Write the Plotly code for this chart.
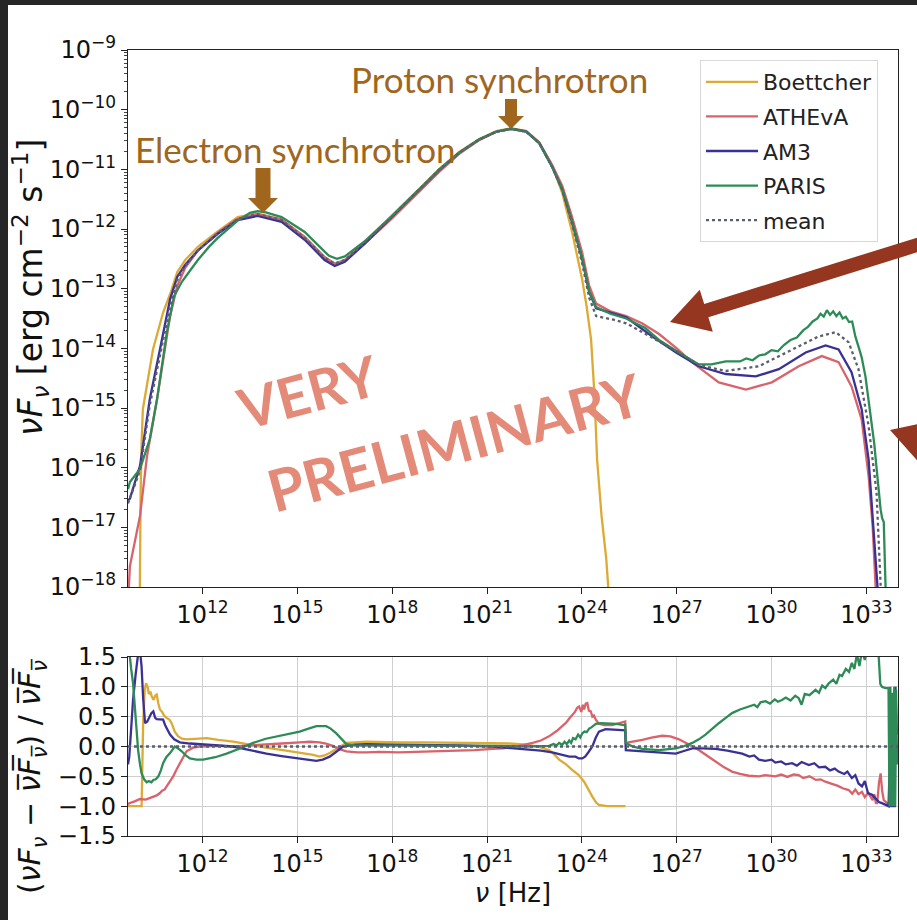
import math
import plotly.graph_objects as go

# ---------------- data (log10 nu [Hz], log10 nuFnu [erg cm^-2 s^-1]) ----------------
boet_lognu = [10.0, 10.02, 10.04, 10.07, 10.11, 10.43, 10.75, 11.0, 11.2, 11.45, 11.85, 12.48, 13.11,
              13.74, 14.50, 15.23, 15.86, 16.18, 16.5, 17.12, 18.0, 19.0, 19.49, 20.12, 20.75, 21.29,
              21.76, 22.24, 22.65, 23.06, 23.38, 23.69, 24.01, 24.15, 24.29, 24.40, 24.48, 24.62,
              24.77, 24.83, 24.86]
boet_logf = [-19.0, -17.5, -16.4, -15.6, -15.02, -14.02, -13.4, -13.05, -12.72, -12.52, -12.30, -12.04,
             -11.80, -11.74, -11.84, -12.16, -12.50, -12.60, -12.52, -12.22, -11.77, -11.25, -10.99,
             -10.71, -10.49, -10.36, -10.31, -10.36, -10.55, -10.94, -11.40, -12.05, -12.85, -13.30,
             -13.85, -14.8, -15.86, -16.8, -17.53, -17.98, -18.6]

athe_lognu = [9.64, 9.70, 10.02, 10.24, 10.56, 10.97, 11.2, 11.45, 11.85, 12.48, 13.11, 13.74, 14.50,
              15.23, 15.86, 16.18, 16.5, 17.12, 18.0, 19.0, 19.49, 20.12, 20.75, 21.29, 21.76, 22.24,
              22.65, 23.06, 23.38, 23.69, 24.01, 24.23, 24.45, 24.9, 25.40, 25.9, 26.44, 27.0, 27.48,
              28.33, 29.19, 30.01, 30.86, 31.59, 32.12, 32.53, 32.85, 33.07, 33.20, 33.29, 33.35]
athe_logf = [-18.3, -17.65, -16.81, -15.81, -14.85, -13.46, -12.95, -12.65, -12.36, -12.06, -11.83,
             -11.75, -11.84, -12.13, -12.47, -12.58, -12.52, -12.25, -11.82, -11.30, -11.04, -10.74,
             -10.51, -10.37, -10.32, -10.36, -10.55, -10.93, -11.28, -11.80, -12.40, -12.95, -13.25,
             -13.38, -13.46, -13.58, -13.76, -14.0, -14.23, -14.57, -14.69, -14.57, -14.30, -14.13,
             -14.23, -14.64, -15.19, -16.14, -17.0, -17.98, -18.8]

am3_lognu = [9.64, 9.70, 10.02, 10.33, 10.65, 10.97, 11.2, 11.45, 11.85, 12.48, 13.11, 13.74, 14.50,
             15.23, 15.86, 16.18, 16.5, 17.12, 18.0, 19.0, 19.49, 20.12, 20.75, 21.29, 21.76, 22.24,
             22.65, 23.06, 23.38, 23.69, 24.01, 24.23, 24.45, 25.40, 26.22, 26.98, 27.70, 28.55,
             29.50, 30.23, 31.08, 31.71, 32.12, 32.53, 32.85, 33.07, 33.23, 33.35, 33.40]
am3_logf = [-16.55, -16.52, -15.97, -14.85, -14.02, -13.18, -12.80, -12.60, -12.36, -12.08, -11.85,
            -11.78, -11.88, -12.18, -12.52, -12.62, -12.55, -12.25, -11.79, -11.27, -11.01, -10.72,
            -10.50, -10.37, -10.32, -10.37, -10.56, -10.96, -11.34, -11.89, -12.51, -13.06, -13.33,
            -13.48, -13.80, -14.07, -14.30, -14.43, -14.47, -14.35, -14.07, -13.95, -14.02, -14.40,
            -15.02, -15.86, -16.98, -17.98, -18.8]

paris_lognu = [9.64, 9.70, 10.02, 10.33, 10.56, 10.87, 11.1, 11.35, 11.6, 11.85, 12.2, 12.48, 13.11,
               13.5, 13.74, 14.0, 14.50, 15.23, 15.86, 16.0, 16.25, 16.5, 17.12, 18.0, 19.0, 19.49,
               20.12, 20.75, 21.29, 21.76, 22.24, 22.65, 23.06, 23.38, 23.69, 24.01, 24.23, 24.45,
               24.9, 25.4, 26.0, 26.44, 27.0, 27.70, 28.1, 28.55, 29.0, 29.2, 29.4, 29.6, 29.8, 30.0,
               30.2, 30.4, 30.6, 30.8, 31.0, 31.15, 31.3, 31.45, 31.55, 31.65, 31.75, 31.85, 31.95,
               32.05, 32.15, 32.25, 32.35, 32.45, 32.55, 32.65, 32.75, 32.85, 32.97, 33.05, 33.16,
               33.25, 33.32, 33.39, 33.45, 33.5, 33.55, 33.58, 33.61, 33.65]
paris_logf = [-16.36, -16.24, -16.02, -15.52, -14.85, -13.73, -13.12, -12.88, -12.70, -12.52, -12.30,
              -12.15, -11.86, -11.73, -11.70, -11.72, -11.80, -12.05, -12.38, -12.45, -12.50, -12.46,
              -12.21, -11.78, -11.26, -11.00, -10.72, -10.50, -10.37, -10.32, -10.37, -10.56, -10.96,
              -11.33, -11.87, -12.49, -13.04, -13.31, -13.42, -13.50, -13.66, -13.86, -14.05, -14.27,
              -14.27, -14.22, -14.22, -14.17, -14.20, -14.12, -14.10, -14.03, -14.05, -13.94, -13.86,
              -13.82, -13.70, -13.64, -13.55, -13.50, -13.42, -13.47, -13.36, -13.44, -13.38, -13.46,
              -13.40, -13.50, -13.47, -13.56, -13.55, -13.80, -13.97, -14.15, -14.47, -14.80, -15.30,
              -15.60, -16.00, -16.41, -16.70, -16.85, -16.91, -17.50, -17.98, -18.8]

mean_lognu = [9.64, 10.02, 10.33, 10.65, 10.97, 11.2, 11.45, 11.85, 12.48, 13.11, 13.74, 14.50, 15.23,
              15.86, 16.18, 16.5, 17.12, 18.0, 19.0, 19.49, 20.12, 20.75, 21.29, 21.76, 22.24, 22.65,
              23.06, 23.38, 23.69, 24.01, 24.23, 24.45, 25.0, 25.4, 26.22, 27.0, 27.7, 28.55, 29.6,
              30.64, 31.49, 32.03, 32.44, 32.75, 33.07, 33.32, 33.48, 33.52]
mean_logf = [-16.60, -16.05, -14.95, -14.10, -13.30, -12.85, -12.62, -12.36, -12.07, -11.83, -11.75,
             -11.85, -12.15, -12.48, -12.58, -12.52, -12.23, -11.79, -11.27, -11.00, -10.72, -10.50,
             -10.37, -10.32, -10.37, -10.56, -10.96, -11.35, -11.92, -12.58, -13.15, -13.46, -13.52,
             -13.58, -13.82, -14.05, -14.28, -14.38, -14.30, -14.02, -13.80, -13.73, -13.90, -14.35,
             -15.30, -16.41, -17.98, -18.8]

# ---------------- residuals (nuFnu - mean) / mean ----------------
boet_res_lognu = [9.64, 10.07, 10.12, 10.17, 10.21, 10.26, 10.3, 10.35, 10.39, 10.45, 10.5, 10.55, 10.6,
                  10.65, 10.72, 10.78, 10.86, 10.95, 11.02, 11.12, 11.23, 11.35, 11.49, 11.8, 12.13,
                  12.5, 12.97, 13.49, 14.0, 14.54, 15.0, 15.28, 15.5, 15.70, 15.85, 16.02, 16.3, 16.55,
                  17.18, 17.8, 18.23, 19.0, 20.0, 21.16, 21.7, 22.23, 22.6, 22.96, 23.1, 23.28, 23.5,
                  23.69, 23.9, 24.07, 24.2, 24.33, 24.45, 24.54, 24.8, 25.38]
boet_res = [-1.0, -1.0, 0.4, 0.95, 1.06, 1.0, 0.88, 0.92, 0.84, 0.78, 0.85, 0.87, 0.72, 0.62, 0.58,
            0.52, 0.48, 0.45, 0.39, 0.25, 0.17, 0.13, 0.12, 0.13, 0.14, 0.11, 0.08, 0.03, -0.02, -0.06,
            -0.10, -0.12, -0.14, -0.17, -0.15, -0.11, -0.02, 0.06, 0.08, 0.07, 0.07, 0.07, 0.06, 0.06,
            0.05, 0.03, 0.0, -0.06, -0.12, -0.22, -0.30, -0.39, -0.48, -0.59, -0.72, -0.84, -0.94,
            -0.98, -1.0, -1.0]

athe_res_lognu = [9.64, 9.68, 9.85, 10.02, 10.2, 10.33, 10.45, 10.55, 10.65, 10.72, 10.8, 10.86, 10.95,
                  11.07, 11.18, 11.28, 11.38, 11.49, 11.7, 11.91, 12.5, 12.97, 13.5, 14.02, 14.5, 15.07,
                  15.4, 15.70, 15.9, 16.12, 16.35, 16.55, 16.9, 17.18, 17.6, 18.2, 18.8, 19.5, 20.12,
                  20.6, 21.17, 21.5, 21.91, 22.2, 22.44, 22.7, 22.96, 23.2, 23.38, 23.5, 23.6, 23.69,
                  23.78, 23.85, 23.91, 23.98, 24.03, 24.07, 24.12, 24.17, 24.22, 24.28, 24.33, 24.38,
                  24.44, 24.54, 24.7, 24.96, 25.15, 25.33, 25.37, 25.39, 25.6, 25.91, 26.2, 26.54, 26.8,
                  27.07, 27.4, 27.70, 27.95, 28.23, 28.5, 28.75, 29.0, 29.28, 29.6, 29.8, 30.12, 30.3,
                  30.5, 30.7, 30.86, 31.0, 31.2, 31.4, 31.55, 31.70, 31.9, 32.1, 32.25, 32.44, 32.55,
                  32.65, 32.75, 32.86, 32.95, 33.05, 33.13, 33.2, 33.25, 33.3, 33.34, 33.4, 33.45, 33.5,
                  33.55, 33.65, 33.7]
athe_res = [-0.97, -0.95, -0.92, -0.88, -0.89, -0.86, -0.84, -0.82, -0.78, -0.74, -0.72, -0.67, -0.60,
            -0.50, -0.38, -0.28, -0.17, -0.08, -0.02, 0.0, 0.01, 0.0, 0.02, 0.03, 0.05, 0.07, 0.08,
            0.07, 0.05, 0.01, -0.05, -0.08, -0.10, -0.10, -0.09, -0.10, -0.09, -0.09, -0.08, -0.06,
            -0.04, -0.03, 0.0, 0.03, 0.06, 0.10, 0.17, 0.26, 0.34, 0.40, 0.47, 0.53, 0.58, 0.65, 0.67,
            0.58, 0.70, 0.62, 0.72, 0.73, 0.60, 0.59, 0.50, 0.52, 0.45, 0.38, 0.36, 0.36, 0.39, 0.42,
            0.42, 0.06, 0.08, 0.11, 0.15, 0.18, 0.17, 0.12, 0.03, -0.06, -0.15, -0.25, -0.35, -0.42,
            -0.46, -0.49, -0.50, -0.48, -0.50, -0.47, -0.51, -0.47, -0.48, -0.53, -0.50, -0.56, -0.55,
            -0.59, -0.62, -0.66, -0.70, -0.73, -0.79, -0.72, -0.80, -0.76, -0.85, -0.78, -0.84, -0.90,
            -0.80, -0.95, -0.95, -0.60, -0.45, -0.75, -0.90, -0.95, -0.97]

am3_res_lognu = [9.64, 9.68, 9.74, 9.80, 9.88, 9.96, 10.02, 10.07, 10.12, 10.18, 10.25, 10.33, 10.38,
                 10.44, 10.5, 10.55, 10.65, 10.75, 10.82, 10.9, 10.97, 11.1, 11.28, 11.6, 11.91, 12.4,
                 12.96, 13.5, 14.02, 14.5, 15.07, 15.35, 15.60, 15.8, 16.02, 16.25, 16.44, 16.8, 17.18,
                 18.0, 19.0, 20.12, 21.17, 21.7, 22.23, 22.7, 23.06, 23.3, 23.60, 23.8, 23.9, 24.01,
                 24.1, 24.2, 24.33, 24.44, 24.54, 24.75, 25.0, 25.33, 25.37, 25.39, 25.9, 26.44, 26.97,
                 27.2, 27.49, 27.8, 28.23, 28.6, 29.07, 29.3, 29.45, 29.60, 29.8, 30.0, 30.12, 30.3,
                 30.45, 30.65, 30.8, 30.95, 31.18, 31.35, 31.5, 31.70, 31.85, 32.0, 32.12, 32.3, 32.4,
                 32.54, 32.65, 32.75, 32.86, 32.95, 33.05, 33.18, 33.3, 33.4, 33.49, 33.6, 33.70, 33.73,
                 33.76, 33.9, 33.92, 33.96]
am3_res = [-0.30, -0.17, 0.30, 0.78, 1.20, 1.55, 1.60, 1.34, 0.80, 0.39, 0.42, 0.50, 0.56, 0.59, 0.48,
           0.46, 0.45, 0.45, 0.35, 0.26, 0.20, 0.12, 0.07, 0.05, 0.04, 0.02, 0.0, -0.06, -0.12, -0.16,
           -0.20, -0.22, -0.24, -0.22, -0.17, -0.08, 0.0, 0.03, 0.04, 0.03, 0.03, 0.02, 0.0, -0.02,
           -0.04, -0.07, -0.10, -0.13, -0.17, -0.17, -0.20, -0.20, -0.17, -0.10, 0.0, 0.15, 0.25, 0.29,
           0.28, 0.27, 0.27, -0.06, -0.08, -0.10, -0.12, -0.08, -0.03, -0.03, -0.04, -0.07, -0.12,
           -0.17, -0.15, -0.22, -0.24, -0.22, -0.27, -0.25, -0.30, -0.28, -0.32, -0.26, -0.31, -0.28,
           -0.35, -0.34, -0.40, -0.37, -0.42, -0.46, -0.42, -0.53, -0.48, -0.62, -0.67, -0.58, -0.78,
           -0.81, -0.88, -0.93, -0.95, -0.98, -1.0, -0.45, -1.0, -1.0, 1.0, 0.2]

paris_res_lognu = [9.64, 9.68, 9.74, 9.80, 9.88, 9.96, 10.02, 10.07, 10.15, 10.23, 10.3, 10.38, 10.44,
                   10.52, 10.60, 10.68, 10.75, 10.85, 10.97, 11.05, 11.12, 11.22, 11.34, 11.47, 11.60,
                   11.8, 12.02, 12.4, 12.76, 13.2, 13.60, 14.0, 14.44, 14.8, 15.07, 15.35, 15.60, 15.91,
                   16.05, 16.23, 16.4, 16.55, 16.8, 17.18, 18.5, 20.12, 21.17, 22.23, 22.96, 23.1, 23.2,
                   23.28, 23.38, 23.45, 23.52, 23.60, 23.66, 23.72, 23.80, 23.88, 23.95, 24.01, 24.08,
                   24.15, 24.23, 24.3, 24.44, 24.6, 24.86, 25.1, 25.33, 25.37, 25.39, 25.6, 25.91, 26.44,
                   26.97, 27.2, 27.49, 27.7, 27.91, 28.1, 28.33, 28.55, 28.75, 29.0, 29.28, 29.45, 29.55,
                   29.65, 29.81, 29.95, 30.1, 30.2, 30.33, 30.45, 30.6, 30.75, 30.86, 30.95, 31.05, 31.2,
                   31.39, 31.5, 31.6, 31.7, 31.81, 31.95, 32.05, 32.15, 32.23, 32.35, 32.45, 32.54, 32.62,
                   32.7, 32.78, 32.86, 32.95, 33.05, 33.2, 33.3, 33.39, 33.44, 33.49, 33.6, 33.70, 33.73,
                   33.76, 33.79, 33.82, 33.85, 33.88, 33.91, 33.94, 33.97]
paris_res = [1.80, 1.55, 1.30, 1.06, 0.50, -0.06, -0.30, -0.45, -0.55, -0.60, -0.58, -0.60, -0.56,
             -0.55, -0.50, -0.40, -0.28, -0.18, -0.11, -0.05, 0.0, -0.03, -0.08, -0.15, -0.20, -0.22,
             -0.22, -0.18, -0.12, -0.03, 0.06, 0.13, 0.18, 0.21, 0.25, 0.30, 0.34, 0.34, 0.30, 0.22,
             0.12, 0.04, 0.02, 0.02, 0.01, 0.01, 0.01, 0.0, 0.01, 0.04, 0.02, 0.06, 0.03, 0.08, 0.04,
             0.10, 0.06, 0.14, 0.12, 0.20, 0.15, 0.22, 0.25, 0.24, 0.30, 0.32, 0.38, 0.39, 0.39, 0.38,
             0.36, 0.36, 0.06, 0.0, -0.04, -0.06, -0.03, 0.0, 0.06, 0.12, 0.20, 0.29, 0.39, 0.48, 0.56,
             0.62, 0.67, 0.70, 0.66, 0.74, 0.76, 0.72, 0.79, 0.75, 0.78, 0.82, 0.77, 0.85, 0.81, 0.70,
             0.88, 0.86, 0.95, 0.90, 1.02, 0.98, 1.06, 1.12, 1.05, 1.20, 1.18, 1.30, 1.25, 1.40, 1.30,
             1.55, 1.35, 1.60, 1.45, 1.70, 1.70, 1.60, 1.50, 1.05, 1.00, 0.98, 0.98, -1.0, 1.0, -1.0,
             0.9, -1.0, 1.0, -1.0, 0.95, -0.3]

mean_res_lognu = [9.64, 34.0]
mean_res = [0.0, 0.0]

# tick exponents
y_exponents = [-18, -17, -16, -15, -14, -13, -12, -11, -10, -9]
x_exponents = [12, 15, 18, 21, 24, 27, 30, 33]
res_ticks = [-1.5, -1.0, -0.5, 0.0, 0.5, 1.0, 1.5]

# ---------------- styling ----------------
W, H = 917, 920
COLORS = {"Boettcher": "#DDAA33", "ATHEvA": "#D8636B", "AM3": "#3A3196", "PARIS": "#2E8B57",
          "mean": "#5A5F6B"}
TICKFONT = dict(family="DejaVu Sans", size=24, color="#111111")
BROWN = "#A0661E"
DARKRED = "#943620"
SALMON = "#E38B78"
SUP = 17


def px(x):
    return x / W


def py(y):
    return 1 - y / H


def pow_label(k):
    s = ("−" if k < 0 else "") + str(abs(k))
    return f"10<sup><span style='font-size:{SUP}px'>{s}</span></sup>"


series = [
    ("Boettcher", boet_lognu, boet_logf, boet_res_lognu, boet_res),
    ("ATHEvA", athe_lognu, athe_logf, athe_res_lognu, athe_res),
    ("AM3", am3_lognu, am3_logf, am3_res_lognu, am3_res),
    ("PARIS", paris_lognu, paris_logf, paris_res_lognu, paris_res),
    ("mean", mean_lognu, mean_logf, mean_res_lognu, mean_res),
]

fig = go.Figure()
for name, lx, ly, rx, ry in series:
    dash = "dot" if name == "mean" else "solid"
    fig.add_trace(go.Scatter(
        x=[10 ** v for v in lx], y=[10 ** v for v in ly], mode="lines", name=name, legendgroup=name,
        line=dict(color=COLORS[name], width=2.3, dash=dash), xaxis="x", yaxis="y"))
for name, lx, ly, rx, ry in series:
    dash = "dot" if name == "mean" else "solid"
    fig.add_trace(go.Scatter(
        x=[10 ** v for v in rx], y=ry, mode="lines", name=name, showlegend=False, legendgroup=name,
        line=dict(color=COLORS[name], width=2.3, dash=dash), xaxis="x2", yaxis="y2"))

xdom = [px(128), px(898)]
axis_common = dict(showline=True, linecolor="#222222", linewidth=1.2, mirror=True, automargin=False,
                   ticks="outside", ticklen=6, tickcolor="#222222", tickfont=TICKFONT, zeroline=False)
x_tickvals = [10.0 ** k for k in x_exponents]
x_ticktext = [pow_label(k) for k in x_exponents]

fig.update_layout(
    width=W, height=H, margin=dict(l=0, r=0, t=0, b=0, autoexpand=False),
    paper_bgcolor="white", plot_bgcolor="white",
    xaxis=dict(domain=xdom, type="log", range=[9.64, 34.0], tickvals=x_tickvals, ticktext=x_ticktext,
               showgrid=False, anchor="y", **axis_common),
    yaxis=dict(domain=[py(587), py(50)], type="log", range=[-18, -9],
               tickvals=[10.0 ** k for k in y_exponents], ticktext=[pow_label(k) for k in y_exponents],
               showgrid=False, anchor="x",
               minor=dict(ticks="outside", ticklen=3, tickcolor="#444444", dtick="D1", showgrid=False),
               **axis_common),
    xaxis2=dict(domain=xdom, type="log", range=[9.64, 34.0], tickvals=x_tickvals, ticktext=x_ticktext,
                showgrid=True, gridcolor="#cfcfcf", gridwidth=1.2, anchor="y2",
                title=dict(text="<i>ν</i> [Hz]", font=dict(family="DejaVu Sans", size=26, color="#111111"),
                           standoff=4),
                **axis_common),
    yaxis2=dict(domain=[py(836), py(657)], range=[-1.5, 1.5], tickvals=res_ticks, tickformat=".1f",
                showgrid=True, gridcolor="#cfcfcf", gridwidth=1.2, anchor="x2",
                **axis_common),
    legend=dict(x=px(700), y=py(60), xanchor="left", yanchor="top", bgcolor="white",
                bordercolor="#d8d8d8", borderwidth=1, itemwidth=52,
                font=dict(family="DejaVu Sans", size=22, color="#222222"), tracegroupgap=3),
    showlegend=True,
)

shapes = []
# dark slide frame
shapes.append(dict(type="rect", xref="paper", yref="paper", x0=0, x1=px(8), y0=0, y1=1,
                   fillcolor="#262626", line=dict(width=0), layer="above"))
shapes.append(dict(type="rect", xref="paper", yref="paper", x0=0, x1=1, y0=py(5), y1=1,
                   fillcolor="#262626", line=dict(width=0), layer="above"))


def poly(points):
    d = "M " + " L ".join(f"{px(x):.5f},{py(y):.5f}" for x, y in points) + " Z"
    return d


def down_arrow(cx, top, head_y, tip, shaft_hw, head_hw):
    return [(cx - shaft_hw, top), (cx + shaft_hw, top), (cx + shaft_hw, head_y), (cx + head_hw, head_y),
            (cx, tip), (cx - head_hw, head_y), (cx - shaft_hw, head_y)]


for pts in (down_arrow(263, 168, 198, 213, 7.5, 15), down_arrow(511, 99, 116, 129, 6, 13)):
    shapes.append(dict(type="path", xref="paper", yref="paper", path=poly(pts),
                       fillcolor=BROWN, line=dict(width=0), layer="above"))


def block_arrow(tip, ux, uy, length, head_len, head_hw, shaft_hw):
    n = math.hypot(ux, uy)
    ux, uy = ux / n, uy / n
    nx, ny = -uy, ux
    tx, ty = tip
    bx, by = tx + head_len * ux, ty + head_len * uy
    ex, ey = tx + length * ux, ty + length * uy
    return [(tx, ty), (bx + head_hw * nx, by + head_hw * ny), (bx + shaft_hw * nx, by + shaft_hw * ny),
            (ex + shaft_hw * nx, ey + shaft_hw * ny), (ex - shaft_hw * nx, ey - shaft_hw * ny),
            (bx - shaft_hw * nx, by - shaft_hw * ny), (bx - head_hw * nx, by - head_hw * ny)]


shapes.append(dict(type="path", xref="paper", yref="paper",
                   path=poly(block_arrow((670, 322), 247, -77, 280, 38, 22, 7)),
                   fillcolor=DARKRED, line=dict(width=0), layer="above"))
shapes.append(dict(type="path", xref="paper", yref="paper",
                   path=poly(block_arrow((890, 430), 0.95, 0.31, 120, 38, 22, 7)),
                   fillcolor=DARKRED, line=dict(width=0), layer="above"))
fig.update_layout(shapes=shapes)

annotations = [
    # y-axis titles
    dict(text="<i>νF</i><sub><i>ν</i></sub> [erg cm<sup>−2</sup> s<sup>−1</sup>]",
         x=px(30), y=py(288), xref="paper", yref="paper", textangle=-90, showarrow=False,
         font=dict(family="DejaVu Sans", size=33, color="#111111"), xanchor="center", yanchor="middle"),
    dict(text=("(<i>νF</i><sub><i>ν</i></sub> − <i>ν̅F̅</i><sub><i>ν̅</i></sub>)"
               " / <i>ν̅F̅</i><sub><i>ν̅</i></sub>"),
         x=px(31), y=py(776), xref="paper", yref="paper", textangle=-90, showarrow=False,
         font=dict(family="DejaVu Sans", size=30, color="#111111"), xanchor="center", yanchor="middle"),
    # slide annotations
    dict(text="Proton synchrotron", x=px(499), y=py(79), xref="paper", yref="paper",
         showarrow=False, font=dict(family="Lato", size=35, color=BROWN), xanchor="center", yanchor="middle"),
    dict(text="Electron synchrotron", x=px(295), y=py(149), xref="paper", yref="paper",
         showarrow=False, font=dict(family="Lato", size=35, color=BROWN), xanchor="center", yanchor="middle"),
    dict(text="<b>VERY</b>", x=px(307), y=py(391), xref="paper", yref="paper", textangle=-15,
         showarrow=False, font=dict(family="Lato", size=56, color=SALMON), xanchor="center", yanchor="middle"),
    dict(text="<b>PRELIMINARY</b>", x=px(454), y=py(441), xref="paper", yref="paper", textangle=-15,
         showarrow=False, font=dict(family="Lato", size=58, color=SALMON), xanchor="center", yanchor="middle"),
]
fig.update_layout(annotations=annotations)

fig.write_html("out.html")
